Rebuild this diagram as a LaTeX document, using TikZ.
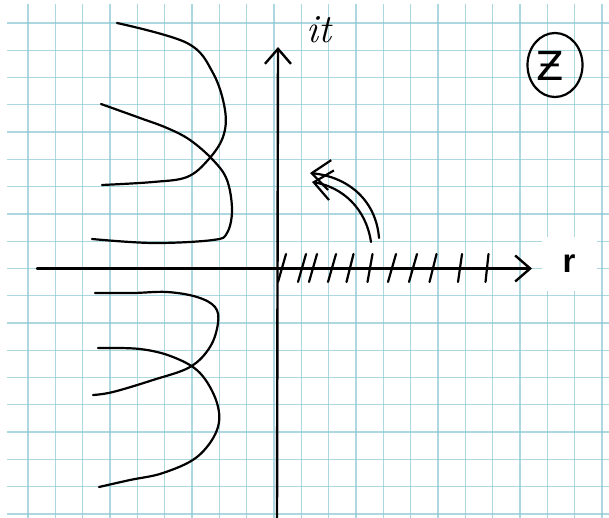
\documentclass[tikz,border=0pt]{standalone}
\usepackage{fontspec}
\usepackage{tikz}
\usetikzlibrary{arrows.meta,shapes.geometric}
\newfontfamily\labelsans{Liberation Sans}
\newfontfamily\labeldejavu{DejaVu Sans}
\definecolor{gridteal}{HTML}{8CC8D4}

\begin{document}
\begin{tikzpicture}[x=1pt, y=-1pt,
    gridline/.style={draw=gridteal, line width=1.3pt, opacity=0.7},
    pen/.style={line width=2.2pt, line cap=round, line join=round},
    axis/.style={line width=2.4pt, line cap=round, -{Straight Barb[length=15pt, width=26pt]}},
    curl/.style={pen, -{Straight Barb[length=18pt, width=30pt]}},
]
\useasboundingbox (0,0) rectangle (609,518);
\fill[white] (0,0) rectangle (609,518);
% grid paper
\foreach \k in {0,...,18} \draw[gridline] (7,{23+27.27*\k}) -- (609,{23+27.27*\k});
\foreach \k in {0,...,21} \draw[gridline] ({28+27.33*\k},4) -- ({28+27.33*\k},518);

% axes
\coordinate (rstart) at (37,268.5);
\coordinate (rend) at (532,268.5);
\coordinate (ibot) at (277,518);
\coordinate (itop) at (278,47);
\draw[axis] (rstart) -- (rend);
\draw[axis] (ibot) -- (itop);
\foreach \x/\s in {282/8, 302/8, 313/8, 332/8, 350/7, 370/5, 392/8, 413/8, 433/7, 460/4, 487/3}
    \draw[pen] ({\x-\s/2},282) -- ({\x+\s/2},254);

% labels
\node[font=\fontsize{40}{40}\selectfont\itshape] (itlabel) at (319,30) {it};
\node[fill=white, minimum width=55pt, minimum height=54pt, inner sep=0pt,
      font=\labelsans\bfseries\fontsize{33}{33}\selectfont] (rlabel) at (569,264) {r};
\node[font=\labeldejavu\fontsize{40}{40}\selectfont] (zchar) at (550,66) {Ƶ};
\node[draw, ellipse, pen, minimum width=55pt, minimum height=64pt, inner sep=0pt] (zmark) at (555,65) {};

% upper curves
\draw[pen] plot[smooth, tension=0.6] coordinates {(117,23) (187,43) (213,73) (225,110) (223,137) (208,160) (187,177) (153,182) (102,185)};
\draw[pen] plot[smooth, tension=0.6] coordinates {(101,104) (140,118) (167,128) (190,140) (213,160) (227,180) (232,210) (227,233) (213,240) (153,243) (92,239)};
% lower curves
\draw[pen] plot[smooth, tension=0.6] coordinates {(95,293) (133,293) (167,292) (197,297) (215,307) (218,323) (210,347) (190,367) (153,380) (113,392) (93,395)};
\draw[pen] plot[smooth, tension=0.6] coordinates {(98,348) (140,349) (173,357) (200,373) (217,403) (217,430) (197,457) (163,473) (130,480) (99,487)};

% turning arrows
\draw[curl] (379,238) .. controls (376,200) and (348,177) .. (310,173);
\draw[curl] (371,242) .. controls (366,208) and (342,187) .. (312,182);
\end{tikzpicture}
\end{document}
